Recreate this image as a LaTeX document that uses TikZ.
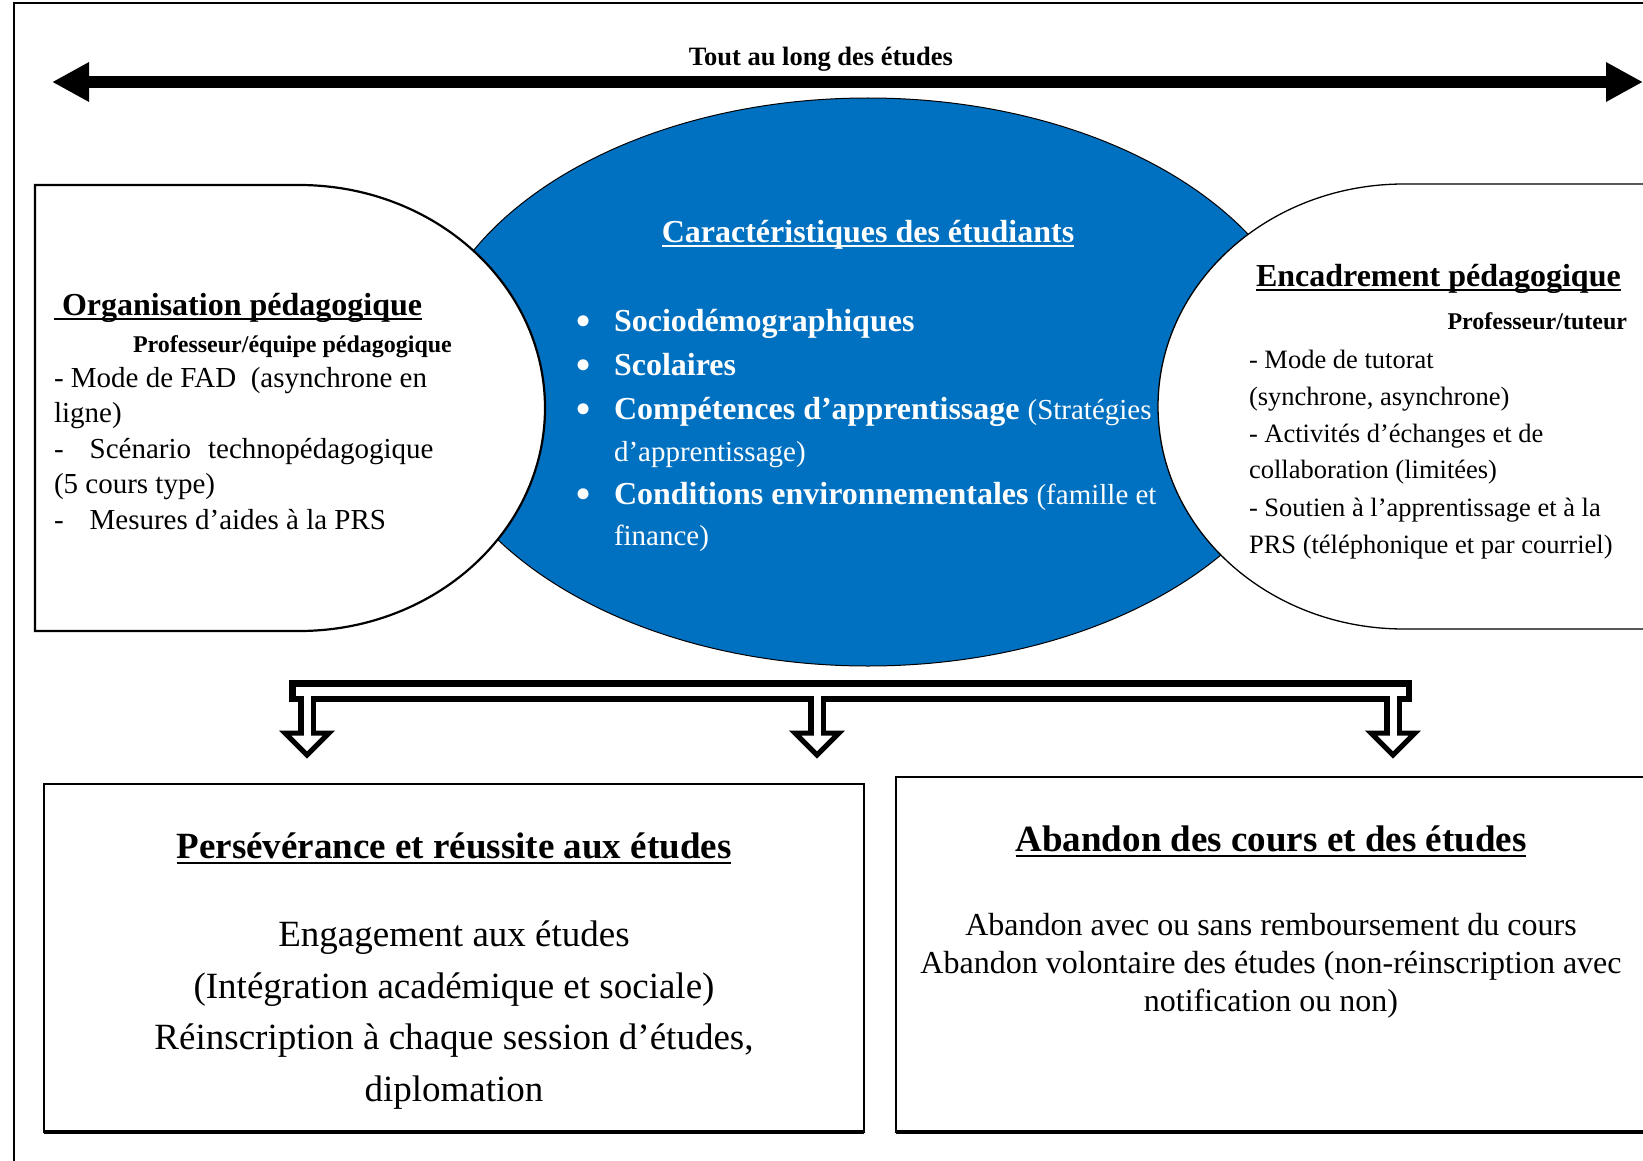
\documentclass[tikz,border=0pt]{standalone}
\usepackage{fontspec}
\setmainfont{Liberation Serif}
\usetikzlibrary{arrows.meta, positioning}
\definecolor{etublue}{RGB}{0,112,192}
\newcommand{\fs}[1]{\fontsize{#1}{#1}\selectfont}
\newcommand{\ulbox}[1]{\setbox0=\hbox{#1}\rlap{\rule[-0.15em]{\wd0}{0.065em}}\box0}
\tikzset{
x=1pt, y=-1pt, % one unit is one pixel of the scan, y goes down
every node/.style={inner sep=0pt, outer sep=0pt},
toptitle/.style={font=\fs{26.5}\bfseries, anchor=base},
sidehead/.style={font=\fs{32}\bfseries, anchor=base west},
subhead/.style={font=\fs{24}\bfseries},
lefttxt/.style={font=\fs{29}, anchor=base west},
righttxt/.style={font=\fs{26.5}, anchor=base west},
bullettxt/.style={font=\fs{32}\bfseries, anchor=base west, text=white},
bighead/.style={font=\fs{37}\bfseries, anchor=base},
bigtxt/.style={font=\fs{37}, anchor=base},
midtxt/.style={font=\fs{32}, anchor=base},
sideshape/.style={draw=black, fill=white},
pipeout/.style={line width=22pt},
pipein/.style={line width=9pt, white},
shaftout/.style={line width=18pt},
shaftin/.style={line width=7pt, white},
headtip/.style={line width=5pt, line join=miter, draw=black, fill=white},
}
\begin{document}
\begin{tikzpicture}
\useasboundingbox (0,0) rectangle (1643,1161);
% frame
\draw[line width=2pt] (14,1170) -- (14,3) -- (1650,3);

% top arrow
\node[toptitle] (tout) at (821,66) {Tout au long des études};
\coordinate (tl) at (52,82);
\coordinate (tr) at (1643,82);
\draw[line width=12pt, {Triangle[length=37pt,width=37pt]}-{Triangle[length=37pt,width=37pt]}] (tl) -- (tr);

% central ellipse
\filldraw[fill=etublue, draw=black, line width=1pt] (868,382) ellipse [x radius=445, y radius=284];

% side shapes
\filldraw[sideshape, line width=2.2pt] (299,631) -- (35,631) -- (35,185) -- (299,185)
  arc[start angle=-90, end angle=90, x radius=246, y radius=223] -- cycle;
\filldraw[sideshape, line width=1.3pt] (1660,184) -- (1404,184)
  arc[start angle=-90, end angle=-270, x radius=246, y radius=222.5] -- (1660,629);

% left text
\node[sidehead] (orga) at (54,315) {\ulbox{\ Organisation pédagogique}};
\node[subhead, anchor=base west] (profeq) at (133,352.5) {Professeur/équipe pédagogique};
\node[lefttxt] (l1) at (54,387) {- Mode de FAD\ \ (asynchrone en};
\node[lefttxt] (l2) at (54,422) {ligne)};
\node[lefttxt] (l3) at (54,458) {-\hspace{26pt}Scénario\hspace{17pt}technopédagogique};
\node[lefttxt] (l4) at (54,493) {(5 cours type)};
\node[lefttxt] (l5) at (54,529) {-\hspace{26pt}Mesures d’aides à la PRS};

% ellipse text
\node[font=\fs{32}\bfseries, text=white, anchor=base] (carac) at (868,242) {\ulbox{Caractéristiques des étudiants}};
\foreach \yy in {331,375,419,504}
  \node[font=\fs{46}, text=white] at (584,\yy-5) {•};
\node[bullettxt] (b1) at (614,331) {Sociodémographiques};
\node[bullettxt] (b2) at (614,375) {Scolaires};
\node[bullettxt] (b3) at (614,419) {Compétences d’apprentissage {\fs{29}\mdseries(Stratégies}};
\node[bullettxt] (b3b) at (614,461) {\fs{29}\mdseries d’apprentissage)};
\node[bullettxt] (b4) at (614,504) {Conditions environnementales {\fs{29}\mdseries(famille et}};
\node[bullettxt] (b4b) at (614,545) {\fs{29}\mdseries finance)};

% right text
\node[sidehead] (encad) at (1256,286) {\ulbox{Encadrement pédagogique}};
\node[subhead, anchor=base east] (proftu) at (1627,329.5) {Professeur/tuteur};
\foreach \txt/\yy in {{- Mode de tutorat}/368, {(synchrone, asynchrone)}/405,
    {- Activités d’échanges et de}/442, {collaboration (limitées)}/478,
    {- Soutien à l’apprentissage et à la}/516, {PRS (téléphonique et par courriel)}/553}
  \node[righttxt] at (1249,\yy) {\txt};

% double arrows
\coordinate (bw) at (289,691);
\coordinate (be) at (1412,691);
\draw[pipeout] (bw) -- (be);
\foreach \xx/\nm in {307/a, 817/b, 1393/c} {
  \coordinate (\nm top) at (\xx,691);
  \coordinate (\nm tip) at (\xx,755);
  \draw[shaftout] (\nm top) -- (\xx,735);
  \filldraw[headtip] (\xx-22,733) -- (\xx+22,733) -- (\nm tip) -- cycle;
}
\draw[pipein] ([xshift=6.5]bw) -- ([xshift=-6.5]be);
\foreach \xx in {307,817,1393}
  \draw[shaftin] (\xx,691) -- (\xx,741);

% bottom boxes
\node[draw, line width=1.5pt, minimum width=820, minimum height=348] (perse) at (454,958) {};
\draw[line width=3.5pt] (perse.south west) -- (perse.south east);
\node[draw, line width=1.5pt, minimum width=784, minimum height=355] (aband) at (1288,954.5) {};
\draw[line width=3.5pt] (aband.south west) -- (aband.south east);

\node[bighead] (persh) at (454,858.5) {\ulbox{Persévérance et réussite aux études}};
\node[bigtxt] (p1) at (454,946.5) {Engagement aux études};
\node[bigtxt] (p2) at (454,998.5) {(Intégration académique et sociale)};
\node[bigtxt] (p3) at (454,1049.5) {Réinscription à chaque session d’études,};
\node[bigtxt] (p4) at (454,1101.5) {diplomation};

\node[bighead] (abh) at (1271,851.5) {\ulbox{Abandon des cours et des études}};
\node[midtxt] (a1) at (1271,935) {Abandon avec ou sans remboursement du cours};
\node[midtxt] (a2) at (1271,973) {Abandon volontaire des études (non-réinscription avec};
\node[midtxt] (a3) at (1271,1011) {notification ou non)};
\end{tikzpicture}
\end{document}
